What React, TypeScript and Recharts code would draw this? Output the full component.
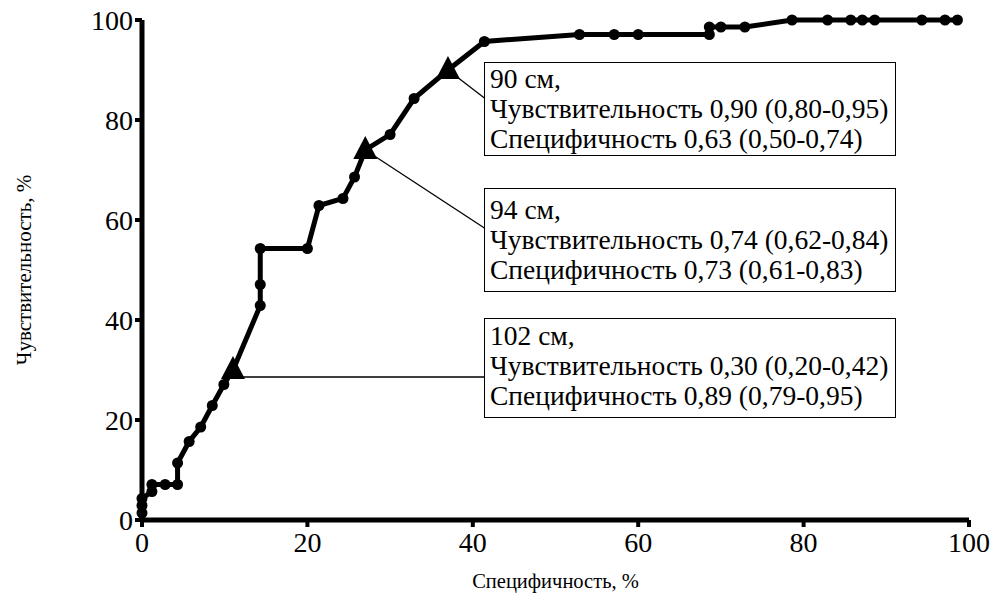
import { ScatterChart, Scatter, XAxis, YAxis, ReferenceLine, Label } from "recharts";

// ROC curve points: x = 100 - specificity (%), y = sensitivity (%)
const rocX = [0, 0, 0, 1.2, 1.2, 2.8, 4.3, 4.3, 5.7, 7.1, 8.5, 9.9, 14.3, 14.3, 14.3, 20, 21.4, 24.3, 25.7, 30, 32.9, 41.4, 52.9, 57.1, 60, 68.6, 68.6, 70, 72.9, 78.6, 82.9, 85.7, 87.1, 88.6, 94.3, 97.1, 98.6];
const rocY = [1.4, 2.9, 4.3, 5.7, 7.1, 7.1, 7.1, 11.4, 15.7, 18.6, 22.9, 27.1, 42.9, 47.1, 54.3, 54.3, 62.9, 64.3, 68.6, 77.1, 84.3, 95.7, 97.1, 97.1, 97.1, 97.1, 98.6, 98.6, 98.6, 100, 100, 100, 100, 100, 100, 100, 100];

// cut-off points (waist circumference)
const cutLabels = ["102 см,", "94 см,", "90 см,"];
const cutX = [11, 27, 37];
const cutY = [30, 74, 90];
const cutSens = ["0,30 (0,20-0,42)", "0,74 (0,62-0,84)", "0,90 (0,80-0,95)"];
const cutSpec = ["0,89 (0,79-0,95)", "0,73 (0,61-0,83)", "0,63 (0,50-0,74)"];
// where each leader line meets its box
const leaderEndX = [41.4, 41.4, 41.4];
const leaderEndY = [28.6, 58.4, 84.4];

const ticks = [0, 20, 40, 60, 80, 100];

const curve = [
  ...rocX.map((x, i) => ({ x, y: rocY[i], cut: false })),
  ...cutX.map((x, i) => ({ x, y: cutY[i], cut: true })),
].sort((a, b) => a.x - b.x || a.y - b.y);

const FONT = "'Liberation Serif', Tinos, 'Noto Serif', FreeSerif, Times, Georgia, serif";

const boxes = [
  { idx: 2, top: 62, height: 94, pad: 1 },
  { idx: 1, top: 188, height: 104, pad: 6 },
  { idx: 0, top: 318, height: 100, pad: 2 },
];

function Marker(props: any) {
  const { cx, cy, payload } = props;
  if (payload.cut) {
    return <polygon points={`${cx},${cy - 14} ${cx - 12},${cy + 9} ${cx + 12},${cy + 9}`} fill="#000" />;
  }
  return <circle cx={cx} cy={cy} r={5.5} fill="#000" />;
}

export default function App() {
  return (
    <div style={{ position: "absolute", left: 0, top: 0, width: 1000, height: 593, background: "#fff", fontFamily: FONT }}>
      <ScatterChart width={1000} height={593} margin={{ top: 20, right: 31, bottom: 0, left: 0 }} style={{ fontFamily: FONT }}>
        <XAxis
          type="number"
          dataKey="x"
          domain={[0, 100]}
          ticks={ticks}
          height={73}
          axisLine={{ stroke: "#000", strokeWidth: 5 }}
          tickLine={{ stroke: "#000", strokeWidth: 4 }}
          tickSize={7}
          tickMargin={5}
          tick={{ fill: "#000", fontSize: 28, fontFamily: FONT }}
        >
          <Label value="Специфичность, %" position="insideBottom" offset={5} style={{ fill: "#000", fontSize: 20.5, fontFamily: FONT }} />
        </XAxis>
        <YAxis
          type="number"
          dataKey="y"
          domain={[0, 100]}
          ticks={ticks}
          width={142}
          axisLine={{ stroke: "#000", strokeWidth: 5 }}
          tickLine={{ stroke: "#000", strokeWidth: 4 }}
          tickSize={7}
          tickMargin={2}
          tick={{ fill: "#000", fontSize: 28, fontFamily: FONT }}
        >
          <Label value="Чувствительность, %" angle={-90} position="insideLeft" offset={24} style={{ fill: "#000", fontSize: 21, fontFamily: FONT, textAnchor: "middle" }} />
        </YAxis>
        {cutX.map((x, i) => (
          <ReferenceLine
            key={i}
            segment={[{ x, y: i === 0 ? leaderEndY[i] : cutY[i] }, { x: leaderEndX[i], y: leaderEndY[i] }]}
            stroke="#000"
            strokeWidth={1.3}
          />
        ))}
        <Scatter
          data={curve}
          line={{ stroke: "#000", strokeWidth: 5 }}
          lineJointType="linear"
          shape={Marker}
          isAnimationActive={false}
        />
      </ScatterChart>
      {boxes.map((b) => (
        <div
          key={b.idx}
          style={{
            position: "absolute",
            left: 484,
            top: b.top,
            width: 412,
            height: b.height,
            boxSizing: "border-box",
            border: "1.5px solid #000",
            background: "#fff",
            paddingLeft: 5,
            paddingTop: b.pad,
            fontSize: 27.5,
            lineHeight: "30px",
            color: "#000",
            whiteSpace: "nowrap",
          }}
        >
          <div>{cutLabels[b.idx]}</div>
          <div>Чувствительность {cutSens[b.idx]}</div>
          <div>Специфичность {cutSpec[b.idx]}</div>
        </div>
      ))}
    </div>
  );
}
